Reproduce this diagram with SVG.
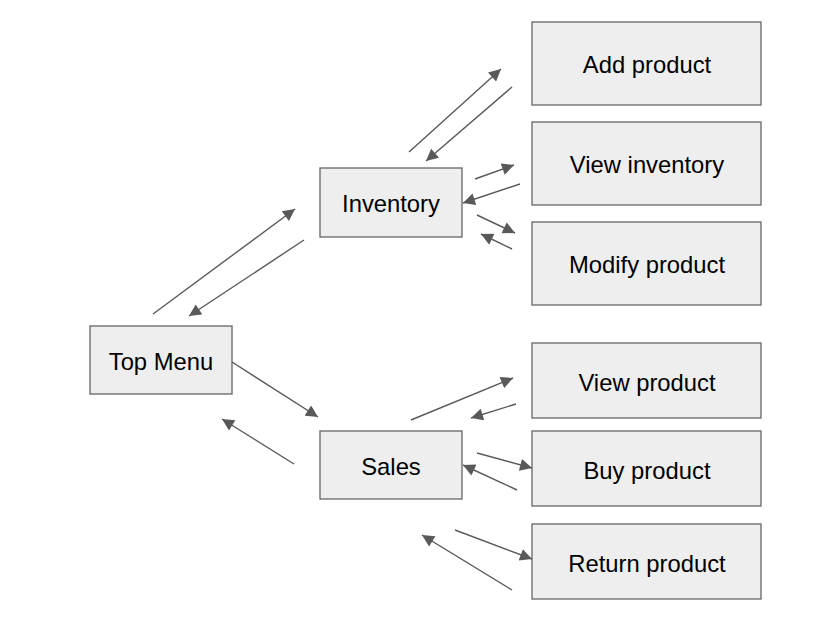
<svg xmlns="http://www.w3.org/2000/svg" width="838" height="627" viewBox="0 0 838 627">
<defs>
<marker id="ah" viewBox="0 0 10 10" refX="10" refY="5" markerWidth="13" markerHeight="12" markerUnits="userSpaceOnUse" orient="auto">
<path d="M0,0 L10,5 L0,10 z" fill="#595959"/>
</marker>
<style>
.box rect{fill:#eeeeee;stroke:#666666;stroke-width:1.3}
.box text{font-family:"Liberation Sans",Arial,sans-serif;font-size:23.8px;fill:#000;text-anchor:middle}
#connectors line{stroke:#595959;stroke-width:1.4;marker-end:url(#ah)}
</style>
</defs>
<rect width="838" height="627" fill="#ffffff"/>
<g id="top-menu" class="box"><rect x="90" y="326" width="142" height="68"/><text x="161" y="370">Top Menu</text></g>
<g id="inventory" class="box"><rect x="320" y="168" width="142" height="69"/><text x="391" y="212">Inventory</text></g>
<g id="sales" class="box"><rect x="320" y="431" width="142" height="68"/><text x="391" y="475">Sales</text></g>
<g id="add-product" class="box"><rect x="532" y="22" width="229" height="83"/><text x="647" y="73">Add product</text></g>
<g id="view-inventory" class="box"><rect x="532" y="122" width="229" height="83"/><text x="647" y="173">View inventory</text></g>
<g id="modify-product" class="box"><rect x="532" y="222" width="229" height="83"/><text x="647" y="273">Modify product</text></g>
<g id="view-product" class="box"><rect x="532" y="343" width="229" height="75"/><text x="647" y="391">View product</text></g>
<g id="buy-product" class="box"><rect x="532" y="431" width="229" height="75"/><text x="647" y="479">Buy product</text></g>
<g id="return-product" class="box"><rect x="532" y="524" width="229" height="75"/><text x="647" y="572">Return product</text></g>
<g id="connectors">
<line x1="153" y1="314" x2="295" y2="209"/>
<line x1="304" y1="240" x2="189" y2="316"/>
<line x1="232" y1="362" x2="318" y2="417"/>
<line x1="294" y1="464" x2="222" y2="419"/>
<line x1="409" y1="152" x2="501" y2="69"/>
<line x1="512" y1="87" x2="426" y2="161"/>
<line x1="475" y1="179" x2="514" y2="165"/>
<line x1="520" y1="184" x2="463" y2="203"/>
<line x1="477" y1="215" x2="515" y2="233"/>
<line x1="512" y1="249" x2="481" y2="234"/>
<line x1="411" y1="420" x2="513" y2="378"/>
<line x1="516" y1="404" x2="471" y2="418"/>
<line x1="477" y1="453" x2="532" y2="468"/>
<line x1="517" y1="490" x2="463" y2="465"/>
<line x1="455" y1="530" x2="532" y2="559"/>
<line x1="512" y1="590" x2="422" y2="535"/>
</g>
</svg>
